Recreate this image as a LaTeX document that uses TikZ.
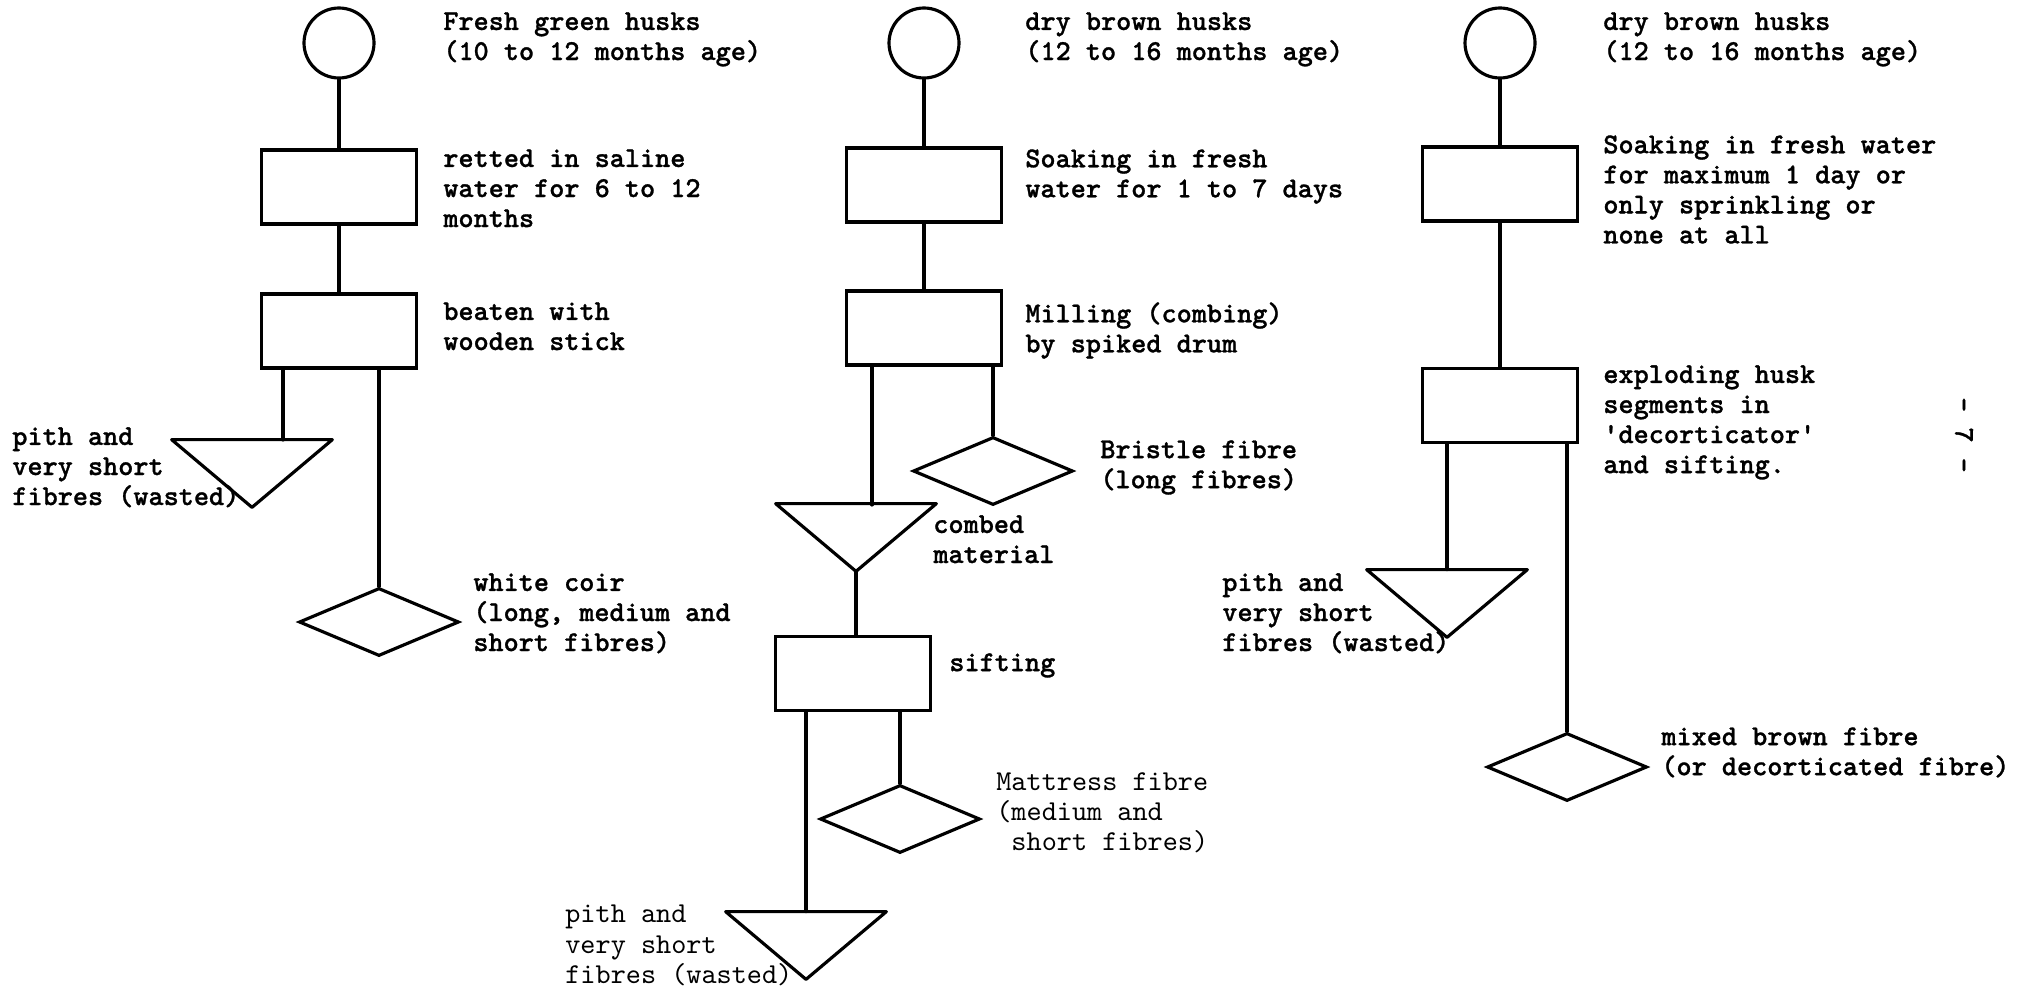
\documentclass[tikz,border=0pt]{standalone}
\usepackage{fontspec}
\setmonofont{lmmono10-regular.otf}[BoldFont=lmmonolt10-bold.otf, BoldFeatures={FakeBold=1}]
\usepackage{tikz}
\usetikzlibrary{shapes.geometric, positioning}
\tikzstyle{flow} = [line width=1.8pt, line cap=round, line join=round]
\tikzstyle{husk} = [circle, draw, line width=1.8pt, minimum size=14mm, inner sep=0]
\tikzstyle{process} = [rectangle, draw, line width=1.8pt, minimum width=31mm, minimum height=14.8mm, inner sep=0]
\tikzstyle{product} = [diamond, draw, line width=1.8pt, minimum width=32mm, minimum height=13.6mm, inner sep=0]
\tikzstyle{waste} = [rectangle, minimum width=32mm, minimum height=13.4mm, inner sep=0]
\tikzstyle{note} = [anchor=north west, inner sep=0, align=left, font=\fontsize{16.4}{17.1}\selectfont\ttfamily\bfseries]
\tikzstyle{lightnote} = [note, font=\fontsize{16.4}{17.1}\selectfont\ttfamily\mdseries]

\begin{document}
\begin{tikzpicture}[x=0.2mm, y=-0.2mm]
    \useasboundingbox (0,0) rectangle (2031,993);

    % Fresh green husks
    \node[husk] (green) at (339,43) {};
    \node[process] (ret) at (339,187) {};
    \node[process] (beat) at (339,331) {};
    \node[waste] (pith1) at (252,473.5) {};
    \node[product] (white) at (379,622) {};
    \coordinate (pith1in) at (283,440);

    \draw[flow] (green) -- (ret);
    \draw[flow] (ret) -- (beat);
    \draw[flow] (pith1in |- beat.south) -- (pith1in);
    \draw[flow] (white.north |- beat.south) -- (white.north);
    \draw[flow] (pith1.north west) -- (pith1.north east) -- (pith1.south) -- cycle;

    \node[note] (greentxt) at (443,12) {Fresh green husks\\(10 to 12 months age)};
    \node[note] (rettxt) at (443,149) {retted in saline\\water for 6 to 12\\months};
    \node[note] (beattxt) at (443,302) {beaten with\\wooden stick};
    \node[note] (pith1txt) at (12,427) {pith and\\very short\\fibres (wasted)};
    \node[note] (whitetxt) at (473,573) {white coir\\(long, medium and\\short fibres)};

    % Dry brown husks, milled
    \node[husk] (brown) at (924,43) {};
    \node[process] (soak) at (924,185) {};
    \node[process] (mill) at (924,328) {};
    \node[product] (bristle) at (993,471) {};
    \node[waste] (combed) at (856,537.5) {};
    \node[process] (sift) at (853,673.5) {};
    \node[product] (mattress) at (900,819) {};
    \node[waste] (pith2) at (806,945.5) {};
    \coordinate (combedin) at (872,505);

    \draw[flow] (brown) -- (soak);
    \draw[flow] (soak) -- (mill);
    \draw[flow] (combedin |- mill.south) -- (combedin);
    \draw[flow] (bristle.north |- mill.south) -- (bristle.north);
    \draw[flow] (combed.north west) -- (combed.north east) -- (combed.south) -- cycle;
    \draw[flow] (combed.south) -- (combed.south |- sift.north);
    \draw[flow] (mattress.north |- sift.south) -- (mattress.north);
    \draw[flow] (pith2.north |- sift.south) -- (pith2.north);
    \draw[flow] (pith2.north west) -- (pith2.north east) -- (pith2.south) -- cycle;

    \node[note] (browntxt) at (1025,12) {dry brown husks\\(12 to 16 months age)};
    \node[note] (soaktxt) at (1025,149) {Soaking in fresh\\water for 1 to 7 days};
    \node[note] (milltxt) at (1025,302) {Milling (combing)\\by spiked drum};
    \node[note] (bristletxt) at (1100,440) {Bristle fibre\\(long fibres)};
    \node[note] (combedtxt) at (933,515) {combed\\material};
    \node[note] (sifttxt) at (949,653) {sifting};
    \node[lightnote] (mattresstxt) at (996,772) {Mattress fibre\\(medium and\\\ short fibres)};
    \node[lightnote] (pith2txt) at (565,905) {pith and\\very short\\fibres (wasted)};

    % Dry brown husks, decorticated
    \node[husk] (dry) at (1500,43) {};
    \node[process] (wet) at (1500,184) {};
    \node[process] (expl) at (1500,405.5) {};
    \node[waste] (pith3) at (1447,603.5) {};
    \node[product] (mixed) at (1567,767) {};

    \draw[flow] (dry) -- (wet);
    \draw[flow] (wet) -- (expl);
    \draw[flow] (pith3.north |- expl.south) -- (pith3.north);
    \draw[flow] (mixed.north |- expl.south) -- (mixed.north);
    \draw[flow] (pith3.north west) -- (pith3.north east) -- (pith3.south) -- cycle;

    \node[note] (drytxt) at (1603,12) {dry brown husks\\(12 to 16 months age)};
    \node[note] (wettxt) at (1603,135) {Soaking in fresh water\\for maximum 1 day or\\only sprinkling or\\none at all};
    \node[note] (expltxt) at (1603,365) {exploding husk\\segments in\\\textquotesingle decorticator\textquotesingle\\and sifting.};
    \node[note] (pith3txt) at (1222,573) {pith and\\very short\\fibres (wasted)};
    \node[note] (mixedtxt) at (1661,727) {mixed brown fibre\\(or decorticated fibre)};

    % Page number
    \node[note, anchor=center, rotate=-90] (page) at (1964,435) {- 7 -};
\end{tikzpicture}
\end{document}
